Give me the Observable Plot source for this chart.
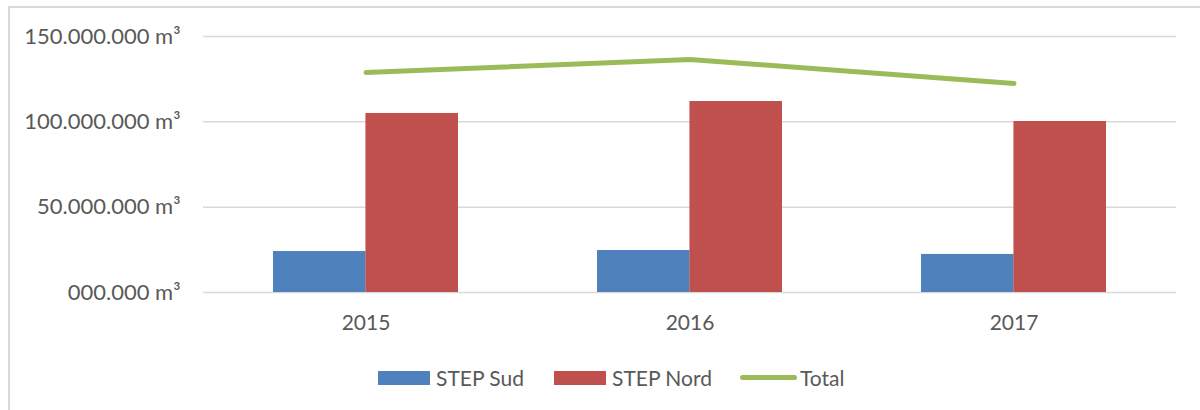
<!DOCTYPE html>
<html>
<head>
<meta charset="utf-8">
<script src="https://cdn.jsdelivr.net/npm/d3@7"></script>
<script src="https://cdn.jsdelivr.net/npm/@observablehq/plot@0.6"></script>
<style>
  html, body { margin: 0; padding: 0; background: #fff; overflow: hidden; }
  #wrap { position: relative; width: 1200px; height: 410px; font-family: Lato, "Open Sans", sans-serif; color: #595959; }
  #frame { position: absolute; left: 8px; top: 6px; width: 1300px; height: 500px; border-top: 2px solid #d9d9d9; border-left: 2px solid #d9d9d9; }
  #chart { position: absolute; left: 0; top: 0; }
  #legend { position: absolute; left: 378px; top: 365px; display: flex; align-items: center; font-size: 21px; color: #595959; }
  .sw { width: 52px; height: 14px; margin-right: 6px; }
  .ln { width: 57px; height: 5px; border-radius: 3px; margin-right: 3px; }
  .item { display: flex; align-items: center; }
</style>
</head>
<body>
<div id="wrap">
  <div id="frame"></div>
  <div id="chart"></div>
  <div id="legend"></div>
</div>
<script>
const years = ["2015", "2016", "2017"];
const stepSud = [24.0e6, 24.6e6, 22.3e6];
const stepNord = [104.9e6, 111.9e6, 100.2e6];
const total = [128.9e6, 136.5e6, 122.5e6];
const yTicks = [0, 50e6, 100e6, 150e6];
const yTickLabels = ["000.000 m³", "50.000.000 m³", "100.000.000 m³", "150.000.000 m³"];
const seriesNames = ["STEP Sud", "STEP Nord", "Total"];
const seriesColors = ["#4F81BD", "#C0504D", "#9BBB59"];

const rowsSud = years.map((y, i) => ({year: y, value: stepSud[i]}));
const rowsNord = years.map((y, i) => ({year: y, value: stepNord[i]}));
const rowsTotal = years.map((y, i) => ({year: y, value: total[i]}));

const W = 1200, H = 345;
const mL = 203, mR = 24, mT = 36, mB = 53;
const padInner = 0.43;
const step = (W - mL - mR) / years.length;
const half = step * (1 - padInner) / 2;

const chart = Plot.plot({
  width: W,
  height: H,
  marginLeft: mL,
  marginRight: mR,
  marginTop: mT,
  marginBottom: mB,
  style: {fontFamily: "Lato, 'Open Sans', sans-serif", fontSize: "21px", color: "#595959", background: "transparent"},
  x: {type: "band", domain: years, paddingInner: padInner, paddingOuter: padInner / 2, align: 0.5, label: null},
  y: {domain: [0, 150e6], label: null},
  marks: [
    Plot.gridY(yTicks, {stroke: "#d9d9d9", strokeOpacity: 1, strokeWidth: 1.5}),
    Plot.axisY({ticks: yTicks, tickSize: 0, tickPadding: 23, tickFormat: (d) => yTickLabels[yTicks.indexOf(d)], fill: "#595959", fontSize: 22, label: null}),
    Plot.axisX({tickSize: 0, tickPadding: 23, fill: "#595959", label: null}),
    Plot.barY(rowsSud, {x: "year", y: "value", fill: seriesColors[0], insetRight: half}),
    Plot.barY(rowsNord, {x: "year", y: "value", fill: seriesColors[1], insetLeft: half}),
    Plot.line(rowsTotal, {x: "year", y: "value", stroke: seriesColors[2], strokeWidth: 5, strokeLinecap: "round", strokeLinejoin: "round"})
  ]
});
document.getElementById("chart").appendChild(chart);

const legend = document.getElementById("legend");
const gaps = [30, 28, 0];
seriesNames.forEach((name, i) => {
  const item = document.createElement("div");
  item.className = "item";
  item.style.marginRight = gaps[i] + "px";
  const mark = document.createElement("div");
  mark.className = i === 2 ? "ln" : "sw";
  mark.style.background = seriesColors[i];
  const label = document.createElement("span");
  label.textContent = name;
  item.appendChild(mark);
  item.appendChild(label);
  legend.appendChild(item);
});
</script>
</body>
</html>
